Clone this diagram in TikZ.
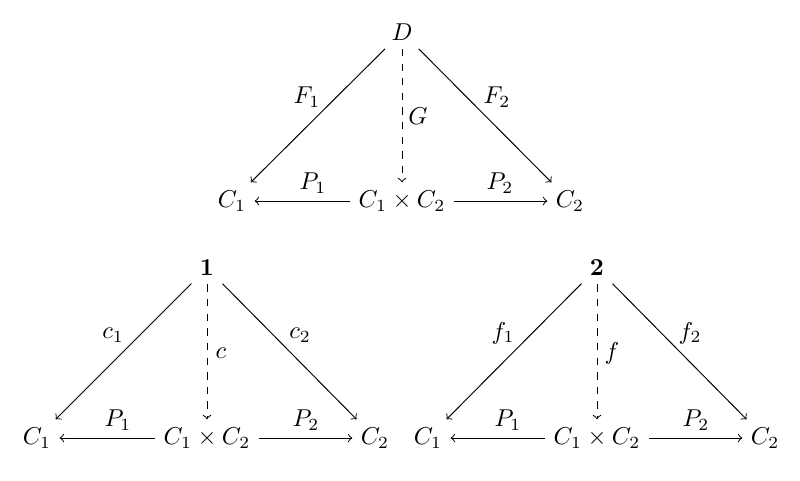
\documentclass[tikz,border=0pt]{standalone}
\begin{document}
\begin{tikzpicture}[x=0.41pt,y=-0.41pt,
  obj/.style={inner sep=3.3pt},
  arr/.style={->},
  darr/.style={->,dashed},
  lab/.style={inner sep=2pt}]
\useasboundingbox (0,0) rectangle (800,480);
% top
\node[obj] (D) at (402,32) {$D$};
\node[obj] (a1) at (232,201) {$C_1$};
\node[obj] (ap) at (402,201) {$C_1\times C_2$};
\node[obj] (a2) at (570,201) {$C_2$};
\draw[arr] (D) -- (a1);
\draw[arr] (D) -- (a2);
\draw[darr] (D) -- (ap);
\draw[arr] (ap) -- (a1);
\draw[arr] (ap) -- (a2);
\node[lab] (lF1) at (307,97) {$F_1$};
\node[lab] (lF2) at (497,97) {$F_2$};
\node[lab] (lG) at (418,116) {$G$};
\node[lab] (lP1a) at (313,183) {$P_1$};
\node[lab] (lP2a) at (500,183) {$P_2$};
% bottom left
\node[obj] (O) at (207,268) {$\mathbf{1}$};
\node[obj] (b1) at (37,438) {$C_1$};
\node[obj] (bp) at (207,438) {$C_1\times C_2$};
\node[obj] (b2) at (375,438) {$C_2$};
\draw[arr] (O) -- (b1);
\draw[arr] (O) -- (b2);
\draw[darr] (O) -- (bp);
\draw[arr] (bp) -- (b1);
\draw[arr] (bp) -- (b2);
\node[lab] (lc1) at (113,335) {$c_1$};
\node[lab] (lc2) at (300,335) {$c_2$};
\node[lab] (lc) at (221,353) {$c$};
\node[lab] (lP1b) at (118,420) {$P_1$};
\node[lab] (lP2b) at (306,420) {$P_2$};
% bottom right
\node[obj] (T) at (597,268) {$\mathbf{2}$};
\node[obj] (c1) at (428,438) {$C_1$};
\node[obj] (cp) at (597,438) {$C_1\times C_2$};
\node[obj] (c2) at (765,438) {$C_2$};
\draw[arr] (T) -- (c1);
\draw[arr] (T) -- (c2);
\draw[darr] (T) -- (cp);
\draw[arr] (cp) -- (c1);
\draw[arr] (cp) -- (c2);
\node[lab] (lf1) at (503,333) {$f_1$};
\node[lab] (lf2) at (690,333) {$f_2$};
\node[lab] (lf) at (612,353) {$f$};
\node[lab] (lP1c) at (508,420) {$P_1$};
\node[lab] (lP2c) at (696,420) {$P_2$};
\end{tikzpicture}
\end{document}
